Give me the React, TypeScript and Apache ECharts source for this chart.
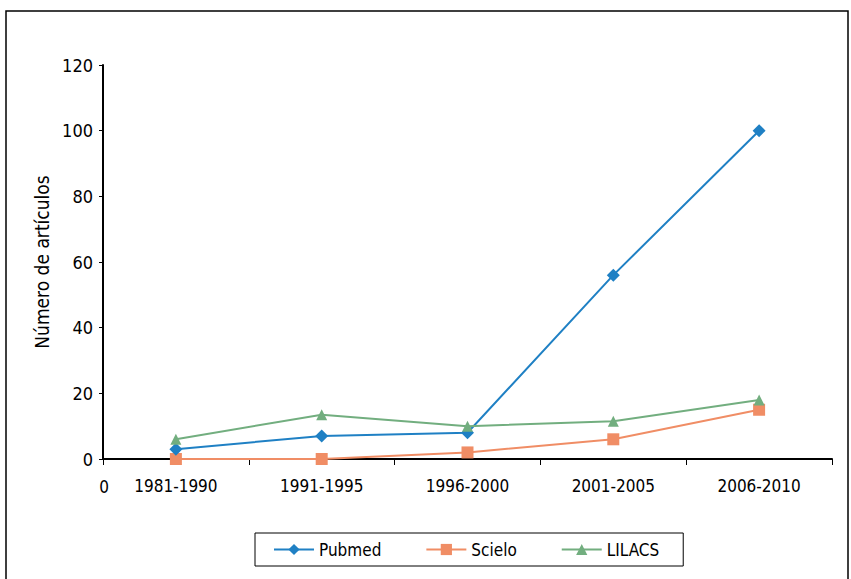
import React, { useEffect, useRef } from "react";
import * as echarts from "echarts";

const categories = ["1981-1990", "1991-1995", "1996-2000", "2001-2005", "2006-2010"];
const pubmed = [3, 7, 8, 56, 100];
const scielo = [0, 0, 2, 6, 15];
const lilacs = [6, 13.5, 10, 11.5, 18];
const yTicks = { min: 0, max: 120, interval: 20 };

const FONT = "'Liberation Sans Narrow', 'Arial Narrow', 'DejaVu Sans Condensed', sans-serif";

export default function App() {
  const ref = useRef<HTMLDivElement>(null);
  useEffect(() => {
    if (!ref.current) return;
    const chart = echarts.init(ref.current, null, { renderer: "svg" });
    chart.setOption({
      animation: false,
      backgroundColor: "#fff",
      textStyle: { fontFamily: FONT },
      grid: { left: 103, right: 19, top: 65, bottom: 120, containLabel: false },
      graphic: [
        {
          type: "rect",
          shape: { x: 6, y: 11, width: 842, height: 590 },
          style: { fill: "none", stroke: "#000", lineWidth: 1.5 },
          silent: true,
        },
        {
          type: "text",
          x: 104,
          y: 487,
          style: { text: "0", font: `17px ${FONT}`, fill: "#000", align: "center", verticalAlign: "middle" },
        },
      ],
      legend: {
        left: 255,
        top: 533,
        padding: [8, 24, 8, 18],
        borderColor: "#000",
        borderWidth: 1,
        itemWidth: 40,
        itemHeight: 14,
        itemGap: 44,
        textStyle: { fontFamily: FONT, fontSize: 17, color: "#000" },
        data: ["Pubmed", "Scielo", "LILACS"],
      },
      xAxis: {
        type: "category",
        data: categories,
        boundaryGap: true,
        axisLine: { lineStyle: { color: "#000", width: 2 } },
        axisTick: { show: true, alignWithLabel: false, length: 6, lineStyle: { color: "#000" } },
        axisLabel: { color: "#000", fontSize: 17, margin: 18, fontFamily: FONT },
      },
      yAxis: {
        type: "value",
        min: yTicks.min,
        max: yTicks.max,
        interval: yTicks.interval,
        name: "Número de artículos",
        nameLocation: "middle",
        nameGap: 50,
        nameTextStyle: { color: "#000", fontSize: 19, fontFamily: FONT },
        splitLine: { show: false },
        axisLine: { show: true, lineStyle: { color: "#000", width: 2 } },
        axisTick: { show: true, length: 4, lineStyle: { color: "#000" } },
        axisLabel: { color: "#000", fontSize: 18, margin: 10, fontFamily: FONT },
      },
      series: [
        {
          name: "Pubmed",
          type: "line",
          data: pubmed,
          symbol: "diamond",
          symbolSize: 13,
          color: "#1f80c4",
          lineStyle: { width: 2 },
          z: 3,
        },
        {
          name: "Scielo",
          type: "line",
          data: scielo,
          symbol: "rect",
          symbolSize: 12,
          color: "#f08d65",
          lineStyle: { width: 2 },
          z: 2,
        },
        {
          name: "LILACS",
          type: "line",
          data: lilacs,
          symbol: "triangle",
          symbolSize: 11,
          color: "#72ae7f",
          lineStyle: { width: 2 },
          z: 4,
        },
      ],
    });
    return () => chart.dispose();
  }, []);
  return (
    <div
      ref={ref}
      style={{ position: "fixed", left: 0, top: 0, width: 851, height: 579, background: "#fff" }}
    />
  );
}
